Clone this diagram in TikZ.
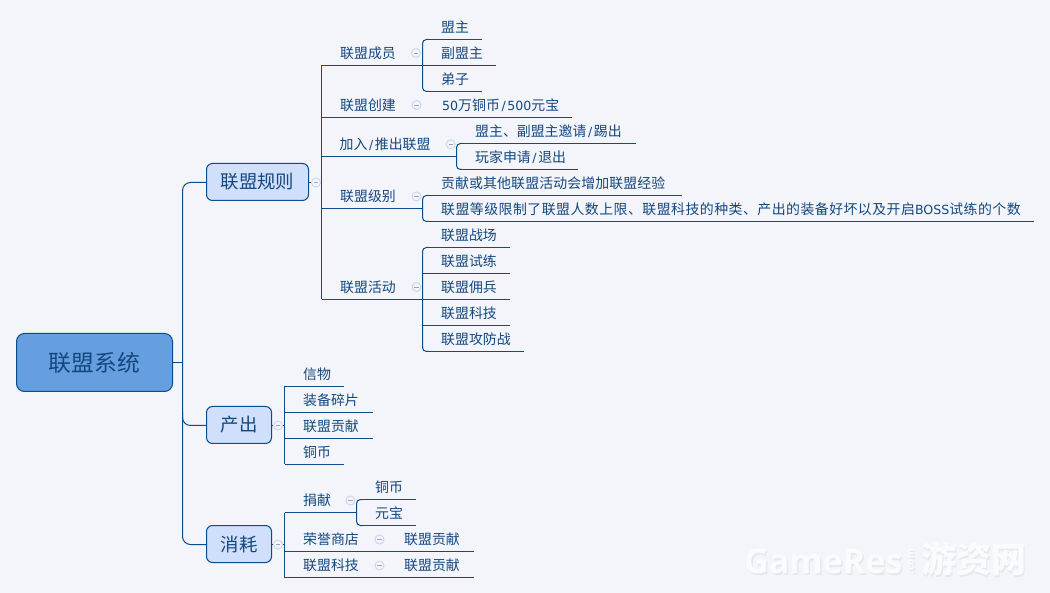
\documentclass[tikz,border=0pt]{standalone}
\usepackage{fontspec}
\setmainfont{Noto Sans CJK SC}
\newfontfamily\spacedcjk[LetterSpace=3.4]{Noto Sans CJK SC}
\newfontfamily\latinf{DejaVu Sans}
\newfontfamily\wmfont{Open Sans}
\newcommand{\lat}[1]{{\latinf\fontsize{12.6}{16}\selectfont #1}}
\newcommand{\slashm}{\hspace{1.6pt}\lat{/}\hspace{1.6pt}}
\definecolor{bgc}{HTML}{F3F5FA}
\definecolor{linec}{HTML}{0B4C8C}
\definecolor{textc}{HTML}{14477F}
\definecolor{rootc}{HTML}{659FDF}
\definecolor{subc}{HTML}{D0DFFC}
\definecolor{foldc}{HTML}{CBD8F2}
\definecolor{foldm}{HTML}{9AA5BD}
\definecolor{wmtop}{HTML}{FAFBFD}
\definecolor{wmsh}{HTML}{E6E8EE}
\tikzset{
  wire/.style={draw=linec,line width=1pt},
  rootbox/.style={draw=linec,line width=1pt,fill=rootc,rounded corners=8pt,text=textc,inner sep=0pt,
    font=\fontsize{22.8}{24}\selectfont},
  subbox/.style={draw=linec,line width=1pt,fill=subc,rounded corners=6pt,text=textc,inner sep=0pt,
    font=\fontsize{18.4}{20}\selectfont},
  topictext/.style={anchor=west,inner sep=0pt,text=textc,font=\fontsize{13.9}{16}\selectfont},
  foldmark/.style={circle,draw=foldc,fill=bgc,line width=1pt,minimum size=9pt,inner sep=0pt},
}
% name, x start, x end, line y, text x, text
\newcommand{\topicline}[6]{%
  \coordinate (#1-a) at (#2,#4);
  \coordinate (#1-b) at (#3,#4);
  \node[topictext] (#1) at (#5,#4-12) {#6};
  \draw[wire] (#1-a) -- (#1-b);
}
% rounded bracket joining two child lines
\newcommand{\bracket}[2]{%
  \fill[bgc] ([xshift=-0.5pt,yshift=-1pt]#1-a) rectangle ([xshift=5pt,yshift=1pt]#1-a);
  \fill[bgc] ([xshift=-0.5pt,yshift=-1pt]#2-a) rectangle ([xshift=5pt,yshift=1pt]#2-a);
  \draw[wire,rounded corners=4pt] ([xshift=6pt]#1-a) -- (#1-a) -- (#2-a) -- ([xshift=6pt]#2-a);
}
% name, x, y
\newcommand{\foldat}[3]{%
  \node[foldmark] (#1) at (#2,#3) {};
  \draw[draw=foldm,line width=0.8pt] ([xshift=-2.2pt]#1.center) -- ([xshift=2.2pt]#1.center);
}
\begin{document}
\begin{tikzpicture}[x=1pt,y=-1pt]
\useasboundingbox (0,0) rectangle (1050,593);
\fill[bgc] (0,0) rectangle (1050,593);

% watermark
\node[text=wmsh,inner sep=0pt,anchor=west,font=\wmfont\bfseries\fontsize{34}{36}\selectfont] (wms1) at (745.5,563) {GameRes};
\node[text=wmsh,inner sep=0pt,rotate=90,font=\wmfont\bfseries\fontsize{10}{12}\selectfont] (wms2) at (912.5,563) {.com};
\node[text=wmsh,inner sep=0pt,anchor=west,font=\bfseries\fontsize{35}{36}\selectfont] (wms3) at (922.5,561) {游资网};
\node[text=wmtop,inner sep=0pt,anchor=west,font=\wmfont\bfseries\fontsize{34}{36}\selectfont] (wm1) at (744,561) {GameRes};
\node[text=wmtop,inner sep=0pt,rotate=90,font=\wmfont\bfseries\fontsize{10}{12}\selectfont] (wm2) at (911,561) {.com};
\node[text=wmtop,inner sep=0pt,anchor=west,font=\bfseries\fontsize{35}{36}\selectfont] (wm3) at (921,559) {游资网};

% main boxes
\node[rootbox,minimum width=156pt,minimum height=58pt] (root) at (94.5,362.5) {联盟系统};
\node[subbox,minimum width=102pt,minimum height=37pt] (rules) at (257.5,182) {联盟规则};
\node[subbox,minimum width=65pt,minimum height=37pt] (output) at (239,425) {产出};
\node[subbox,minimum width=65pt,minimum height=37pt] (cost) at (239,544) {消耗};

% root tree
\coordinate (rootj) at (182.5,362.5);
\draw[wire] (root.east) -- (rootj);
\draw[wire,rounded corners=8pt] ([yshift=-0.5pt]rules.west) -| (rootj) |- ([yshift=-0.5pt]cost.west);
\draw[wire,rounded corners=8pt] ([yshift=-0.5pt]output.west) -| (182.5,412);

% ---- rules
\topicline{m}{321.5}{422.5}{65.5}{340}{联盟成员}
\topicline{m1}{422.5}{482}{39.5}{441}{盟主}
\topicline{m2}{422.5}{496}{65.5}{441}{副盟主}
\topicline{m3}{422.5}{482}{91.5}{441}{弟子}
\bracket{m1}{m3}

\topicline{c}{321.5}{572}{117.5}{340}{联盟创建}
\node[topictext] (c1) at (442,105.5) {\lat{50}万铜币\slashm\lat{500}元宝};

\topicline{j}{321.5}{456.5}{156.5}{339.5}{加入\slashm 推出联盟}
\topicline{j1}{456.5}{636}{143.5}{475}{盟主、副盟主邀请\slashm 踢出}
\topicline{j2}{456.5}{578}{169.5}{475}{玩家申请\slashm 退出}
\bracket{j1}{j2}

\topicline{l}{321.5}{422.5}{208.5}{340}{联盟级别}
\topicline{l1}{422.5}{682}{195.5}{441}{{\addfontfeature{LetterSpace=0.8}贡献或其他联盟活动会增加联盟经验}}
\topicline{l2}{422.5}{1034}{221.5}{441}{{\spacedcjk 联盟等级限制了联盟人数上限、联盟科技的种类、产出的装备好坏以及开启}\lat{BOSS}{\spacedcjk 试练的个数}}
\bracket{l1}{l2}

\topicline{a}{321.5}{422.5}{299.5}{340}{联盟活动}
\topicline{a1}{422.5}{510}{247.5}{441}{联盟战场}
\topicline{a2}{422.5}{510}{273.5}{441}{联盟试练}
\topicline{a3}{422.5}{510}{299.5}{441}{联盟佣兵}
\topicline{a4}{422.5}{510}{325.5}{441}{联盟科技}
\topicline{a5}{422.5}{524}{351.5}{441}{联盟攻防战}
\bracket{a1}{a5}

\coordinate (rulesj) at (321.5,182.5);
\draw[wire] ([yshift=-0.5pt]rules.east) -- (rulesj);
\draw[wire] (m-a) -- (a-a);

% ---- output
\topicline{o1}{284.5}{344}{386.5}{303}{信物}
\topicline{o2}{284.5}{373}{412.5}{303}{装备碎片}
\topicline{o3}{284.5}{373}{438.5}{303}{联盟贡献}
\topicline{o4}{284.5}{344}{464.5}{303}{铜币}
\coordinate (outj) at (284.5,425.5);
\draw[wire] ([yshift=-0.5pt]output.east) -- (outj);
\draw[wire] (o1-a) -- (o4-a);

% ---- cost
\topicline{d}{284.5}{356.5}{512.5}{303}{捐献}
\topicline{d1}{356.5}{416}{499.5}{375}{铜币}
\topicline{d2}{356.5}{416}{525.5}{375}{元宝}
\bracket{d1}{d2}
\topicline{h}{284.5}{474}{551.5}{303}{荣誉商店}
\node[topictext] (h1) at (404,539.5) {联盟贡献};
\topicline{t}{284.5}{474}{577.5}{303}{联盟科技}
\node[topictext] (t1) at (404,565.5) {联盟贡献};
\coordinate (costj) at (284.5,544.5);
\draw[wire] ([yshift=-0.5pt]cost.east) -- (costj);
\draw[wire] (d-a) -- (t-a);

% fold marks
\foldat{f1}{316}{182.5}
\foldat{f2}{416}{53}
\foldat{f3}{416.5}{105}
\foldat{f4}{450.7}{144.3}
\foldat{f5}{416.5}{196.5}
\foldat{f6}{416.5}{287}
\foldat{f7}{278}{425.5}
\foldat{f8}{278}{544.5}
\foldat{f9}{350.5}{500.5}
\foldat{f10}{379.5}{539.5}
\foldat{f11}{379.5}{565.5}
\end{tikzpicture}
\end{document}
